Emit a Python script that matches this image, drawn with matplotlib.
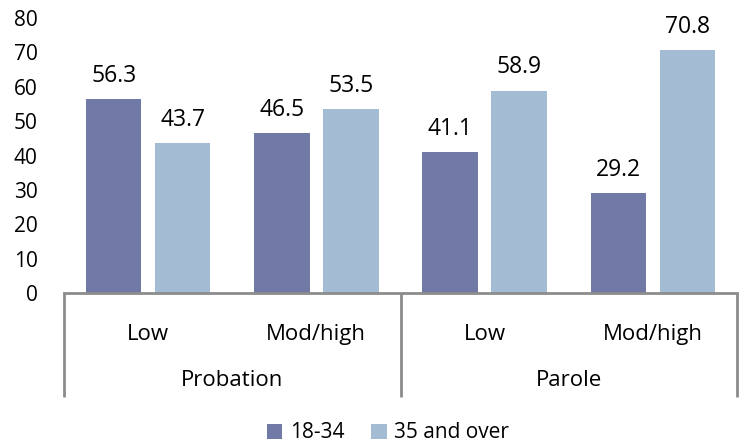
import numpy as np
import matplotlib.pyplot as plt

plt.rcParams['font.family'] = ['Open Sans', 'DejaVu Sans']

categorias = ["Low", "Mod/high", "Low", "Mod/high"]
grupos = ["Probation", "Parole"]
jovens = [56.3, 46.5, 41.1, 29.2]
velhos = [43.7, 53.5, 58.9, 70.8]
series = ["18-34", "35 and over"]

cor_escura = "#717aa6"
cor_clara = "#a3bbd3"
cor_eixo = "#8c8c8c"

fig = plt.figure(figsize=(7.39, 4.45), dpi=100)
ax = fig.add_axes([64 / 739, 1 - 293 / 445, (737 - 64) / 739, (293 - 18) / 445])

x = np.arange(len(categorias))
largura = 0.33
desloc = 0.205

b1 = ax.bar(x - desloc, jovens, largura, color=cor_escura, label=series[0])
b2 = ax.bar(x + desloc, velhos, largura, color=cor_clara, label=series[1])

for barras in (b1, b2):
    for b in barras:
        ax.annotate(f"{b.get_height():.1f}",
                    (b.get_x() + b.get_width() / 2, b.get_height()),
                    xytext=(0, 8), textcoords="offset points",
                    ha="center", va="bottom", fontsize=16.5)

ax.set_xlim(-0.5, len(categorias) - 0.5)
ax.set_ylim(0, 80)
ax.set_yticks(range(0, 81, 10))
ax.tick_params(axis="y", length=0, pad=19, labelsize=15)
ax.set_xticks(x)
ax.set_xticklabels(categorias)
ax.tick_params(axis="x", length=0, pad=22, labelsize=16)

for lado in ["top", "right", "left"]:
    ax.spines[lado].set_visible(False)
ax.spines["bottom"].set_color(cor_eixo)
ax.spines["bottom"].set_linewidth(2)

# divisórias dos grupos
trans = ax.get_xaxis_transform()
fundo = -(397 - 293) / 275
for xd in [-0.5, 1.5, 3.5]:
    ax.plot([xd, xd], [0, fundo], transform=trans, color=cor_eixo,
            lw=2, clip_on=False, solid_capstyle="butt")

for i, g in enumerate(grupos):
    ax.text(2 * i + 0.5, -(380 - 293) / 275, g, transform=trans,
            ha="center", va="center", fontsize=16)

fig.legend(loc="center", bbox_to_anchor=(388 / 739, 1 - 433 / 445),
           ncol=2, frameon=False, fontsize=15, handlelength=0.75,
           handleheight=0.75, handletextpad=0.35, columnspacing=1.3)

fig.savefig("out.png", dpi=100)
